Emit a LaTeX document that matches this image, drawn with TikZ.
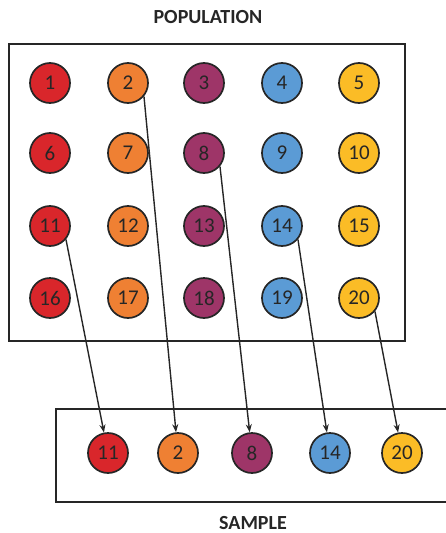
\documentclass[tikz,border=0pt]{standalone}
\usepackage{fontspec}
\setmainfont{Carlito}
\usetikzlibrary{arrows.meta}
\definecolor{cred}{HTML}{D9262B}
\definecolor{corange}{HTML}{EF8033}
\definecolor{cpurple}{HTML}{9E3568}
\definecolor{cblue}{HTML}{5B9BD5}
\definecolor{cyellow}{HTML}{FBBC26}
\tikzset{
  ball/.style={circle, draw=black!85, line width=1.7pt, minimum size=40pt, inner sep=0pt, font=\fontsize{21}{21}\selectfont, text=black!85},
  frame/.style={draw=black!85, line width=2.2pt},
  pick/.style={-{Stealth[length=8pt,width=6pt]}, line width=1.4pt, black!85},
  title/.style={font=\bfseries\fontsize{20}{20}\selectfont, text=black!85}
}
\begin{document}
\begin{tikzpicture}[x=1pt,y=-1pt]
\useasboundingbox (0,0) rectangle (446,533);
\node[title] (tpop) at (208,17) {POPULATION};
\node[frame, minimum width=396pt, minimum height=297pt, inner sep=0pt] (pop) at (207,192.5) {};
\node[frame, minimum width=420pt, minimum height=93pt, inner sep=0pt, anchor=north west] (samp) at (55,408) {};
\node[title] (tsamp) at (253,523) {SAMPLE};
\foreach \c [count=\i] in {cred,corange,cpurple,cblue,cyellow}{
  \pgfmathsetmacro{\xx}{{50,128,204,282,359}[\i-1]}
  \foreach \yy [count=\r] in {83,153,226,298}{
    \pgfmathtruncatemacro{\n}{(\r-1)*5+\i}
    \node[ball, fill=\c] (p\n) at (\xx,\yy) {\n};
  }
}
\node[ball, fill=cred] (s11) at (108,453) {11};
\node[ball, fill=corange] (s2) at (178,453) {2};
\node[ball, fill=cpurple] (s8) at (252,453) {8};
\node[ball, fill=cblue] (s14) at (330,453) {14};
\node[ball, fill=cyellow] (s20) at (402,453) {20};
\draw[pick] (p11.-40) -- (s11);
\draw[pick] (p2.-40) -- (s2);
\draw[pick] (p8.-40) -- (s8);
\draw[pick] (p14.-40) -- (s14);
\draw[pick] (p20.-40) -- (s20);
\end{tikzpicture}
\end{document}
